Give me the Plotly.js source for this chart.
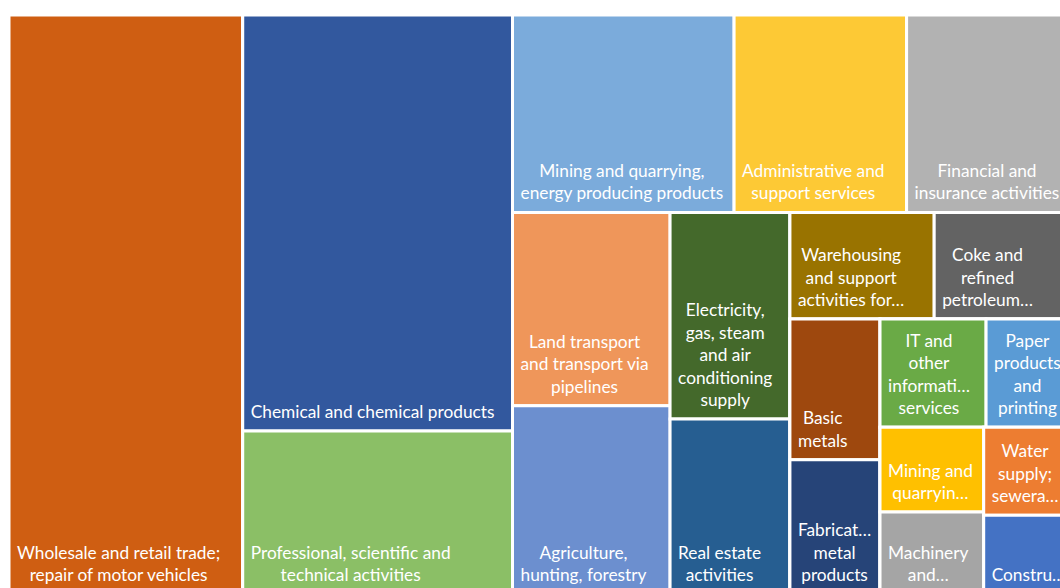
<!DOCTYPE html>
<html><head><meta charset="utf-8">
<script src="https://cdn.plot.ly/plotly-3.0.1.min.js"></script>
<style>
html,body{margin:0;padding:0;overflow:hidden;background:#fff;width:1060px;height:588px}
#chart{width:1075px;height:600px}
</style>
</head><body><div id="chart"></div>
<script>
// Sector names (full), the wrapped/truncated text shown in each tile, values and colours
const sectors = [
  "Wholesale and retail trade; repair of motor vehicles",
  "Chemical and chemical products",
  "Professional, scientific and technical activities",
  "Mining and quarrying, energy producing products",
  "Administrative and support services",
  "Financial and insurance activities",
  "Land transport and transport via pipelines",
  "Agriculture, hunting, forestry",
  "Electricity, gas, steam and air conditioning supply",
  "Real estate activities",
  "Warehousing and support activities for transportation",
  "Coke and refined petroleum products",
  "Basic metals",
  "Fabricated metal products",
  "IT and other information services",
  "Paper products and printing",
  "Mining and quarrying, non-energy producing products",
  "Machinery and equipment n.e.c.",
  "Water supply; sewerage, waste management and remediation",
  "Construction"
];
const tileText = [
  "Wholesale and retail trade;<br>repair of motor vehicles",
  "Chemical and chemical products",
  "Professional, scientific and<br>technical activities",
  "Mining and quarrying,<br>energy producing products",
  "Administrative and<br>support services",
  "Financial and<br>insurance activities",
  "Land transport<br>and transport via<br>pipelines",
  "Agriculture,<br>hunting, forestry",
  "Electricity,<br>gas, steam<br>and air<br>conditioning<br>supply",
  "Real estate<br>activities",
  "Warehousing<br>and support<br>activities for…",
  "Coke and<br>refined<br>petroleum…",
  "Basic<br>metals",
  "Fabricat…<br>metal<br>products",
  "IT and<br>other<br>informati…<br>services",
  "Paper<br>products<br>and<br>printing",
  "Mining and<br>quarryin…",
  "Machinery<br>and…",
  "Water<br>supply;<br>sewera…",
  "Constru…"
];
const values = [135.5, 112.4, 44.0, 43.8, 34.1, 32.3, 30.5, 29.7, 24.8, 21.0,
                15.4, 14.5, 12.7, 12.1, 11.5, 9.1, 8.8, 8.5, 7.6, 6.8];
const colors = ["#CF5E12", "#32589E", "#8BBF66", "#7BABDB", "#FDC935", "#B2B2B2",
                "#EF965A", "#6C8FCF", "#44692B", "#265E91", "#997300", "#636363",
                "#9E480E", "#264478", "#6AAA46", "#5A9BD5", "#FFC000", "#A5A5A5",
                "#ED7D31", "#4472C4"];

// Tiling structure (invisible grouping nodes reproduce the reference arrangement)
const tree = [
  ['root',''],
  ['S0','root'],
  ['C2','root'], ['S1','C2'], ['S2','C2'],
  ['R1','root'],
  ['T1','R1'], ['S3','T1'], ['S4','T1'], ['S5','T1'],
  ['R2','R1'],
  ['C3','R2'], ['S6','C3'], ['S7','C3'],
  ['C4','R2'], ['S8','C4'], ['S9','C4'],
  ['R3','R2'],
  ['T2','R3'], ['S10','T2'], ['S11','T2'],
  ['R4','R3'],
  ['C5','R4'], ['S12','C5'], ['S13','C5'],
  ['R5','R4'],
  ['T3','R5'], ['S14','T3'], ['S15','T3'],
  ['R6','R5'],
  ['C6','R6'], ['S16','C6'], ['S17','C6'],
  ['C7','R6'], ['S18','C7'], ['S19','C7']
];

const ids = [], parents = [], labels = [], vals = [], cols = [], texts = [];
tree.forEach(([id, p]) => {
  ids.push(id); parents.push(p);
  if (id[0] === 'S') {
    const i = +id.slice(1);
    labels.push(sectors[i]); vals.push(values[i]); cols.push(colors[i]); texts.push(tileText[i]);
  } else {
    labels.push(id); vals.push(0); cols.push('#ffffff'); texts.push('');
  }
});

Plotly.newPlot('chart', [{
  type: 'treemap',
  ids: ids, parents: parents, labels: labels, values: vals, text: texts,
  branchvalues: 'remainder',
  sort: false,
  textinfo: 'text',
  textposition: 'bottom left',
  textfont: {family: 'Lato, "Open Sans", sans-serif', size: 17.3, color: '#ffffff'},
  hoverinfo: 'none',
  tiling: {packing: 'slice-dice', pad: 0},
  marker: {colors: cols, line: {color: '#ffffff', width: 3}, pad: {t: 0, l: 0, r: 0, b: 0}, depthfade: false},
  pathbar: {visible: false}
}], {
  width: 1075, height: 600,
  margin: {l: 8.5, t: 14.5, r: 5, b: 6},
  paper_bgcolor: '#ffffff',
  uniformtext: {mode: 'show', minsize: 17.3},
  showlegend: false
}, {displayModeBar: false, staticPlot: true}).then(gd => {
  // labels: block anchored bottom-left with some padding, lines centred within the block
  gd.querySelectorAll('g.slice text.slicetext').forEach(t => {
    const bb = t.getBBox();
    if (!bb.width) return;
    const cx = bb.x + bb.width / 2;
    t.setAttribute('text-anchor', 'middle');
    t.setAttribute('x', cx);
    t.querySelectorAll('tspan').forEach(s => { if (s.hasAttribute('x')) s.setAttribute('x', cx); });
    const tr = t.getAttribute('transform') || '';
    t.setAttribute('transform', 'translate(5,-6) ' + tr);
  });
});
</script>
</body></html>
